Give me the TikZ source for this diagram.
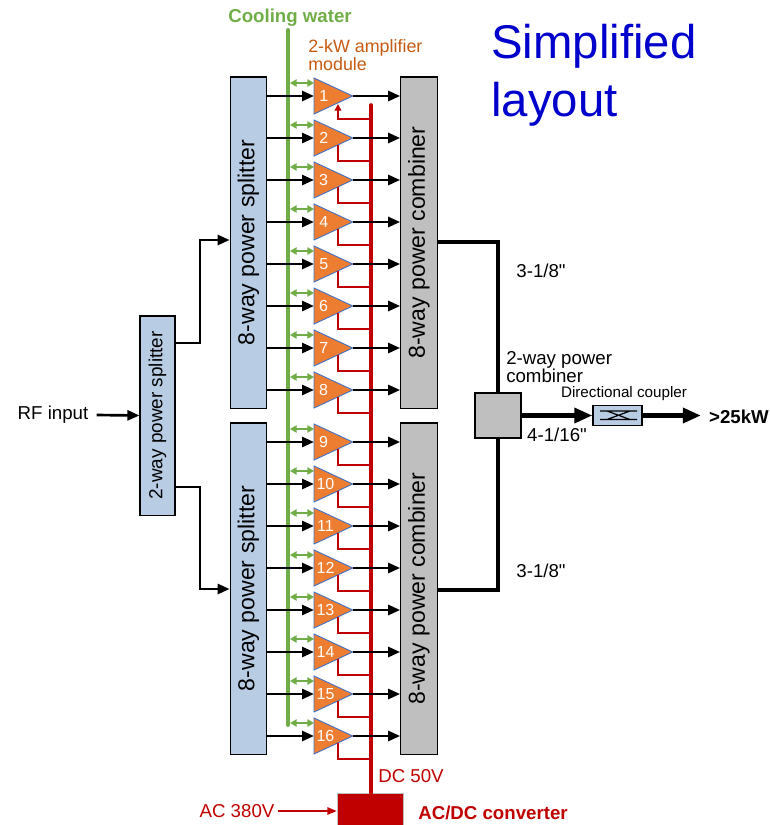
\documentclass[tikz,border=0pt]{standalone}
\usepackage{fontspec}
\setmainfont[Ligatures=TeXOff]{Liberation Sans}
\usetikzlibrary{arrows.meta,calc,shapes.geometric}
\definecolor{brandgreen}{RGB}{112,173,71}
\definecolor{brandred}{RGB}{192,0,0}
\definecolor{brandorange}{RGB}{237,125,49}
\definecolor{labelorange}{RGB}{197,90,17}
\definecolor{boxblue}{RGB}{184,204,228}
\definecolor{boxgrey}{RGB}{191,191,191}
\definecolor{edgeblue}{RGB}{68,114,196}
\newcommand{\labelfont}{\fontsize{14}{13.5}\selectfont}
\tikzset{
  sigbox/.style={draw=black,line width=0.9pt,inner sep=0pt,fill=#1,font=\fontsize{17.3}{20}\selectfont},
  ampbox/.style={shape=isosceles triangle,isosceles triangle stretches,draw=edgeblue,line width=0.7pt,fill=brandorange,
    minimum width=27pt,minimum height=29pt,inner sep=0pt,outer sep=0pt,text=white,font=\fontsize{12}{12}\selectfont},
  sigline/.style={-{Triangle[length=9pt,width=7.5pt]},line width=2pt},
  mainline/.style={line width=2.7pt},
  feedline/.style={brandred,line width=1.1pt},
  coolline/.style={brandgreen,{Triangle[length=5pt,width=5.5pt]}-{Triangle[length=5pt,width=5.5pt]},line width=1.1pt,shorten <=1.5pt},
  txt/.style={font=\labelfont,inner sep=0pt}
}

\begin{document}
\begin{tikzpicture}[x=0.75pt,y=-0.75pt]
  \useasboundingbox (0,0) rectangle (769,825);
  % boxes
  \node[sigbox=boxblue,minimum width=27.4pt,minimum height=248.4pt] (splittop) at (248.5,242.5){\rotatebox{90}{8-way power splitter}};
  \node[sigbox=boxblue,minimum width=27.4pt,minimum height=248.4pt] (splitbot) at (248.5,588.5){\rotatebox{90}{8-way power splitter}};
  \node[sigbox=boxgrey,minimum width=27.4pt,minimum height=248.4pt] (combtop) at (419,242.5){\rotatebox{90}{8-way power combiner}};
  \node[sigbox=boxgrey,minimum width=27.4pt,minimum height=248.4pt] (combbot) at (419,588.5){\rotatebox{90}{8-way power combiner}};
  \node[sigbox=boxblue,minimum width=26.2pt,minimum height=149.4pt,font=\fontsize{14.2}{16}\selectfont] (twosplit) at (157.5,415.5){\rotatebox{90}{2-way power splitter}};
  \node[sigbox=boxgrey,minimum width=34.5pt,minimum height=33.8pt] (twocomb) at (498,415.5){};
  \node[sigbox=boxblue,minimum width=36.8pt,minimum height=15pt] (coupler) at (617.5,415.5){};
  \node[fill=brandred,draw=boxgrey,line width=0.4pt,minimum width=49.5pt,minimum height=24.5pt,inner sep=0pt] (conv) at (370,809.5){};

  % cooling and DC rails
  \coordinate (cooltop) at (288,30);
  \coordinate (coolbot) at (288,725);
  \coordinate (dctop) at (371,105);
  \draw[brandgreen,line width=3pt,line cap=round] (cooltop) -- (coolbot);
  \draw[brandred,line width=2.7pt,line cap=round] (dctop) -- (dctop |- conv.north);

  % amplifier modules
  \foreach \n/\y/\s in {1/96/top,2/138/top,3/180/top,4/222/top,5/264/top,6/306/top,7/348/top,8/390/top,
                        9/442/bot,10/484/bot,11/526/bot,12/568/bot,13/610/bot,14/652/bot,15/694/bot,16/736/bot} {
    \node[ampbox,anchor=lower side] (amp\n) at (314,\y){\n};
    \coordinate (feed\n) at ($(amp\n.lower side)+(24,23)$);
    \coordinate (coolend\n) at ($(amp\n.lower side)+(0,-13)$);
    \ifnum\n=1
      \draw[feedline,{Triangle[length=5pt,width=5pt]}-] ($(amp\n.lower side)+(24,8)$) -- (feed\n) -- (dctop |- feed\n);
    \else
      \draw[feedline] ($(amp\n.lower side)+(24,7)$) -- (feed\n) -- (dctop |- feed\n);
    \fi
    \draw[coolline] (cooltop |- coolend\n) -- (coolend\n);
    \draw[sigline] (split\s.east |- amp\n.lower side) -- (amp\n.lower side);
    \draw[sigline] (amp\n.apex) -- (comb\s.west |- amp\n.apex);
  }

  % signal path
  \coordinate (branchtop) at (200,240);
  \coordinate (branchbot) at (200,589);
  \coordinate (jointop) at (498,242);
  \coordinate (joinbot) at (498,590);
  \node[txt] (rfin) at (53,415){RF input};
  \node[txt,font=\bfseries\labelfont] (output) at (739,417){>25kW};
  \draw[sigline] (rfin.east) ++(8,0) -- (twosplit.west);
  \draw[sigline] ($(twosplit.east)+(0,-72.5)$) -| (branchtop) -- (splittop.west |- branchtop);
  \draw[sigline] ($(twosplit.east)+(0,71.5)$) -| (branchbot) -- (splitbot.west |- branchbot);
  \draw[mainline] (combtop.east |- jointop) -- (jointop) -- (twocomb.north);
  \draw[mainline] (combbot.east |- joinbot) -- (joinbot) -- (twocomb.south);
  \draw[-{Triangle[length=13.5pt,width=11pt]},line width=3.2pt] (twocomb.east) -- (coupler.west);
  \draw[-{Triangle[length=13.5pt,width=11pt]},line width=3.2pt] (coupler.east) -- ($(output.west |- coupler.east)+(-8,0)$);

  % coupler symbol
  \draw[line width=0.9pt] (600,411) -- (637,411) (600,419.5) -- (637,419.5) (607,411) -- (630,419.5) (607,419.5) -- (630,411);

  % AC input
  \node[txt,text=brandred] (acin) at (237,811){AC 380V};
  \draw[brandred,-{Triangle[length=7pt,width=5.5pt]},line width=1.2pt] (acin.east) ++(3,0) -- (conv.west |- acin.east);

  % labels
  \node[txt,font=\bfseries\labelfont,text=brandgreen] (coollabel) at (290,17.5){Cooling water};
  \node[txt,font=\fontsize{13.4}{13.5}\selectfont,text=labelorange,align=left,anchor=north west] (amplabel) at (308,39){2-kW amplifier\\module};
  \node[txt,font=\fontsize{35.5}{43.5}\selectfont,text=blue!80!black,align=left,anchor=north west] (title) at (491,24){Simplified\\layout};
  \node[txt] (sizetop) at (541,271){3-1/8"};
  \node[txt] (sizebot) at (541,571){3-1/8"};
  \node[txt] (sizemid) at (557,435){4-1/16"};
  \node[txt,align=left,anchor=north west] (combtext) at (506,351){2-way power\\combiner};
  \node[txt,font=\fontsize{11.4}{12}\selectfont] (couplertext) at (624,394){Directional coupler};
  \node[txt,text=brandred] (dctext) at (411,776){DC 50V};
  \node[txt,font=\bfseries\labelfont,text=brandred] (convtext) at (493,813){AC/DC converter};
\end{tikzpicture}
\end{document}
